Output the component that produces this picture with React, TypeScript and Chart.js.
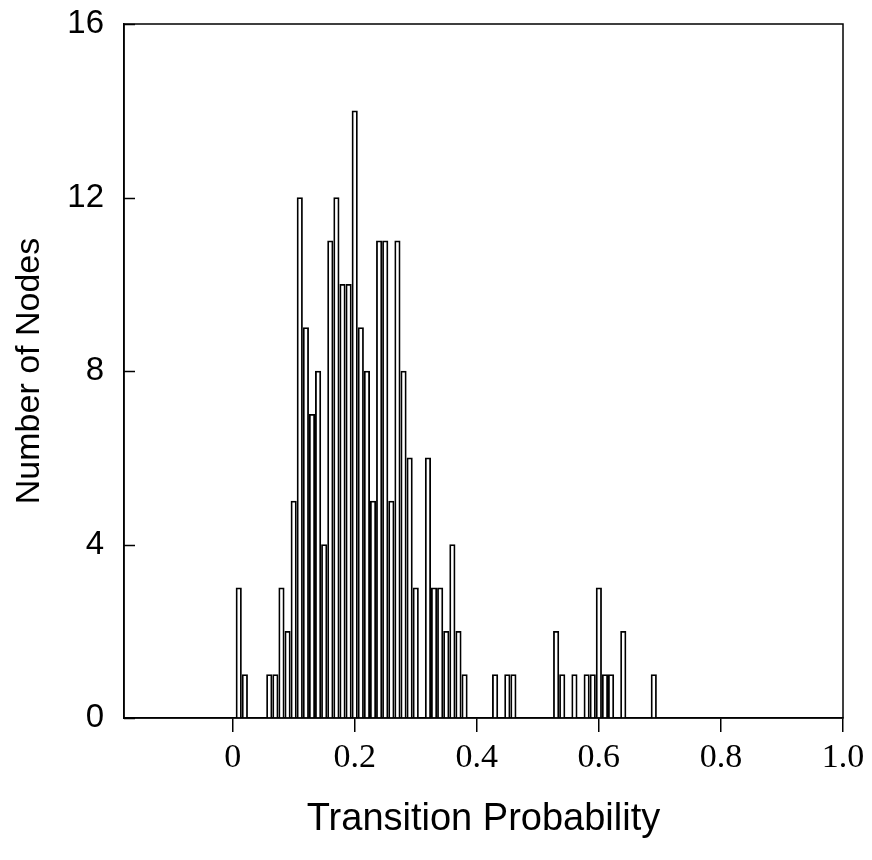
import React, { useEffect, useRef } from "react";
import { Chart, registerables } from "chart.js";

Chart.register(...registerables);

const binCenters = [
  0.01, 0.02, 0.06, 0.07, 0.08, 0.09, 0.10, 0.11, 0.12, 0.13, 0.14, 0.15,
  0.16, 0.17, 0.18, 0.19, 0.20, 0.21, 0.22, 0.23, 0.24, 0.25, 0.26, 0.27,
  0.28, 0.29, 0.30, 0.32, 0.33, 0.34, 0.35, 0.36, 0.37, 0.38, 0.43, 0.45,
  0.46, 0.53, 0.54, 0.56, 0.58, 0.59, 0.60, 0.61, 0.62, 0.64, 0.69,
];
const nodeCounts = [
  3, 1, 1, 1, 3, 2, 5, 12, 9, 7, 8, 4,
  11, 12, 10, 10, 14, 9, 8, 5, 11, 11, 5, 11,
  8, 6, 3, 6, 3, 3, 2, 4, 2, 1, 1, 1,
  1, 2, 1, 1, 1, 1, 3, 1, 1, 2, 1,
];
const xTickValues = [0, 0.2, 0.4, 0.6, 0.8, 1.0];
const xTickLabels = ["0", "0.2", "0.4", "0.6", "0.8", "1.0"];
const yTickValues = [0, 4, 8, 12, 16];

const framePlugin = {
  id: "frameAndInnerTicks",
  afterDraw(chart: any) {
    const { ctx, chartArea } = chart;
    const y = chart.scales.y;
    ctx.save();
    ctx.strokeStyle = "#000";
    ctx.lineWidth = 1.5;
    ctx.strokeRect(chartArea.left, chartArea.top, chartArea.right - chartArea.left, chartArea.bottom - chartArea.top);
    for (const v of yTickValues) {
      const py = Math.round(y.getPixelForValue(v)) + 0.5;
      ctx.beginPath();
      ctx.moveTo(chartArea.left, py);
      ctx.lineTo(chartArea.left + 11, py);
      ctx.stroke();
    }
    ctx.restore();
  },
};

export default function App() {
  const ref = useRef<HTMLCanvasElement>(null);
  useEffect(() => {
    if (!ref.current) return;
    const chart = new Chart(ref.current, {
      type: "bar",
      data: {
        datasets: [
          {
            data: binCenters.map((x, i) => ({ x, y: nodeCounts[i] })),
            backgroundColor: "#ffffff",
            borderColor: "#000000",
            borderWidth: 1.8,
            barThickness: 5.5,
            borderSkipped: "bottom",
          } as any,
        ],
      },
      plugins: [framePlugin],
      options: {
        responsive: false,
        animation: false,
        events: [],
        layout: { padding: { left: 0, top: 24, right: 29, bottom: 0 } },
        plugins: { legend: { display: false }, tooltip: { enabled: false } },
        scales: {
          x: {
            type: "linear",
            offset: false,
            min: -0.178,
            max: 1.0,
            afterBuildTicks: (s: any) => {
              s.ticks = xTickValues.map((v) => ({ value: v }));
            },
            afterFit: (s: any) => {
              s.height = 142;
              s.paddingLeft = 0;
              s.paddingRight = 0;
            },
            ticks: {
              autoSkip: false,
              maxRotation: 0,
              padding: 6,
              color: "#000",
              font: { family: "'Liberation Serif', 'Times New Roman', serif", size: 34 },
              callback: (_v: any, i: number) => xTickLabels[i],
            },
            grid: {
              offset: false,
              drawOnChartArea: false,
              drawTicks: true,
              tickLength: 14,
              color: "#000",
              lineWidth: 1.5,
            },
            border: { display: true, color: "#000", width: 1.5 },
            title: {
              display: true,
              text: "Transition Probability",
              color: "#000",
              font: { family: "'Liberation Sans', Arial, sans-serif", size: 38 },
              padding: { top: 0, bottom: 18 },
            },
          },
          y: {
            min: 0,
            max: 16,
            afterBuildTicks: (s: any) => {
              s.ticks = yTickValues.map((v) => ({ value: v }));
            },
            afterFit: (s: any) => {
              s.width = 124;
              s.paddingTop = 0;
              s.paddingBottom = 0;
            },
            ticks: {
              padding: 20,
              color: "#000",
              font: { family: "'Liberation Sans', Arial, sans-serif", size: 33 },
            },
            grid: { drawOnChartArea: false, drawTicks: false },
            border: { display: true, color: "#000", width: 1.5 },
            title: {
              display: true,
              text: "Number of Nodes",
              color: "#000",
              font: { family: "'Liberation Sans', Arial, sans-serif", size: 34 },
              padding: { top: 9, bottom: 0 },
            },
          },
        },
      } as any,
    });
    return () => chart.destroy();
  }, []);
  return (
    <canvas
      ref={ref}
      width={872}
      height={860}
      style={{ position: "absolute", left: 0, top: 0, width: 872, height: 860, display: "block" }}
    />
  );
}
